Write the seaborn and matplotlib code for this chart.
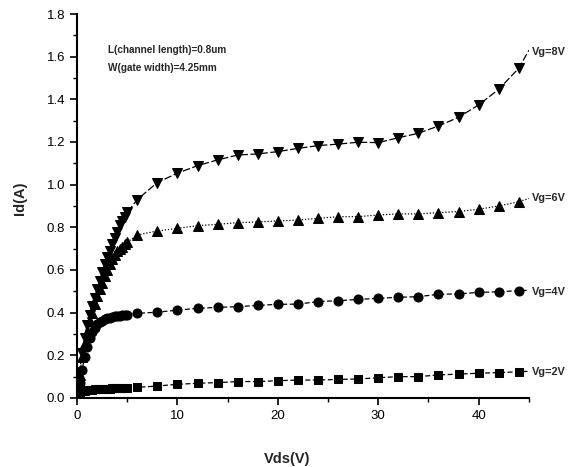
import numpy as np
import pandas as pd
import matplotlib
matplotlib.use('Agg')
import matplotlib.pyplot as plt
import seaborn as sns
from matplotlib.ticker import MultipleLocator

# Vds sweep: dense 0..5 V, then every 2 V up to 44 V, line ends at 45 V
vds_dense = [0, 0.25, 0.5, 0.75, 1.0, 1.25, 1.5, 1.75, 2.0, 2.25, 2.5,
             2.75, 3.0, 3.25, 3.5, 3.75, 4.0, 4.25, 4.5, 4.75, 5.0]
vds_sparse = [6, 8, 10, 12, 14, 16, 18, 20, 22, 24, 26, 28, 30,
              32, 34, 36, 38, 40, 42, 44]
vds_end = 45

id_vg8_dense = [0.02, 0.12, 0.21, 0.28, 0.34, 0.39, 0.43, 0.47, 0.51, 0.55, 0.59,
                0.63, 0.66, 0.69, 0.72, 0.75, 0.78, 0.81, 0.83, 0.85, 0.87]
id_vg8 = [0.93, 1.01, 1.054, 1.089, 1.116, 1.139, 1.144, 1.155, 1.17, 1.183,
          1.19, 1.199, 1.197, 1.22, 1.241, 1.275, 1.316, 1.374, 1.447, 1.546]
id_vg8_end = 1.63

id_vg6_dense = [0.02, 0.11, 0.19, 0.26, 0.31, 0.36, 0.40, 0.44, 0.48, 0.51, 0.54,
                0.57, 0.60, 0.63, 0.65, 0.67, 0.69, 0.70, 0.71, 0.72, 0.73]
id_vg6 = [0.764, 0.783, 0.795, 0.808, 0.814, 0.822, 0.825, 0.83, 0.834, 0.842,
          0.85, 0.85, 0.858, 0.863, 0.863, 0.869, 0.874, 0.885, 0.90, 0.92]
id_vg6_end = 0.935

id_vg4_dense = [0.01, 0.07, 0.13, 0.19, 0.24, 0.28, 0.31, 0.33, 0.345, 0.355, 0.362,
                0.368, 0.373, 0.377, 0.38, 0.382, 0.384, 0.386, 0.388, 0.389, 0.39]
id_vg4 = [0.397, 0.402, 0.412, 0.42, 0.425, 0.428, 0.434, 0.439, 0.44, 0.452,
          0.456, 0.462, 0.467, 0.472, 0.475, 0.486, 0.488, 0.495, 0.498, 0.503]
id_vg4_end = 0.505

id_vg2_dense = [0.0, 0.025, 0.032, 0.035, 0.037, 0.038, 0.039, 0.040, 0.041, 0.042, 0.042,
                0.043, 0.044, 0.044, 0.045, 0.045, 0.046, 0.046, 0.047, 0.047, 0.048]
id_vg2 = [0.05, 0.056, 0.064, 0.069, 0.072, 0.077, 0.077, 0.081, 0.084, 0.084,
          0.087, 0.089, 0.095, 0.10, 0.10, 0.108, 0.112, 0.116, 0.119, 0.123]
id_vg2_end = 0.125

labels = ["Vg=8V", "Vg=6V", "Vg=4V", "Vg=2V"]
label_y = [1.62, 0.937, 0.497, 0.122]

sns.set_style("ticks")
plt.rcParams['font.family'] = ['Liberation Sans', 'DejaVu Sans']

fig = plt.figure(figsize=(5.68, 4.67), dpi=100)
ax = fig.add_axes([0.1356, 0.1478, 0.7955, 0.8222])

series = [
    (id_vg8_dense, id_vg8, id_vg8_end, 'v', (0, (6, 2)), 6.5),
    (id_vg6_dense, id_vg6, id_vg6_end, '^', (0, (1, 1.5)), 6.5),
    (id_vg4_dense, id_vg4, id_vg4_end, 'o', (0, (4, 2)), 6.5),
    (id_vg2_dense, id_vg2, id_vg2_end, 's', (0, (4, 2)), 5.5),
]

for dense, sparse, end, mk, ls, ms in series:
    x = vds_dense + vds_sparse + [vds_end]
    y = dense + sparse + [end]
    df = pd.DataFrame({'Vds': x, 'Id': y})
    n = len(x)
    sns.lineplot(data=df, x='Vds', y='Id', ax=ax, color='black', sort=False,
                 estimator=None, linewidth=0.9, linestyle=ls, marker=mk,
                 markersize=ms, markeredgecolor='black', markerfacecolor='black',
                 markevery=list(range(n - 1)))

for lab, yy in zip(labels, label_y):
    ax.text(45.35, yy, lab, fontsize=7.8, fontweight='bold', va='center', ha='left',
            clip_on=False)

ax.text(3.1, 1.63, "L(channel length)=0.8um", fontsize=7.2, fontweight='bold',
        va='center')
ax.text(3.1, 1.548, "W(gate width)=4.25mm", fontsize=7.2, fontweight='bold',
        va='center')

ax.set_xlim(0, 45)
ax.set_ylim(0, 1.8)
ax.xaxis.set_major_locator(MultipleLocator(10))
ax.xaxis.set_minor_locator(MultipleLocator(5))
ax.yaxis.set_major_locator(MultipleLocator(0.2))
ax.yaxis.set_minor_locator(MultipleLocator(0.1))
ax.set_yticklabels([f"{v:.1f}" for v in ax.get_yticks()])
ax.tick_params(which='major', direction='out', length=5, width=1.2, labelsize=9.5,
               color='black', labelcolor='black')
ax.tick_params(which='minor', direction='out', length=3, width=1.0, color='black')
sns.despine(ax=ax)
for s in ['left', 'bottom']:
    ax.spines[s].set_linewidth(1.5)
    ax.spines[s].set_color('black')

ax.set_xlabel('Vds(V)', fontsize=10.5, fontweight='bold')
ax.set_ylabel('Id(A)', fontsize=10.5, fontweight='bold')
ax.xaxis.set_label_coords(0.465, -0.14)
ax.yaxis.set_label_coords(-0.11, 0.52)

fig.savefig('out.png', dpi=100)
